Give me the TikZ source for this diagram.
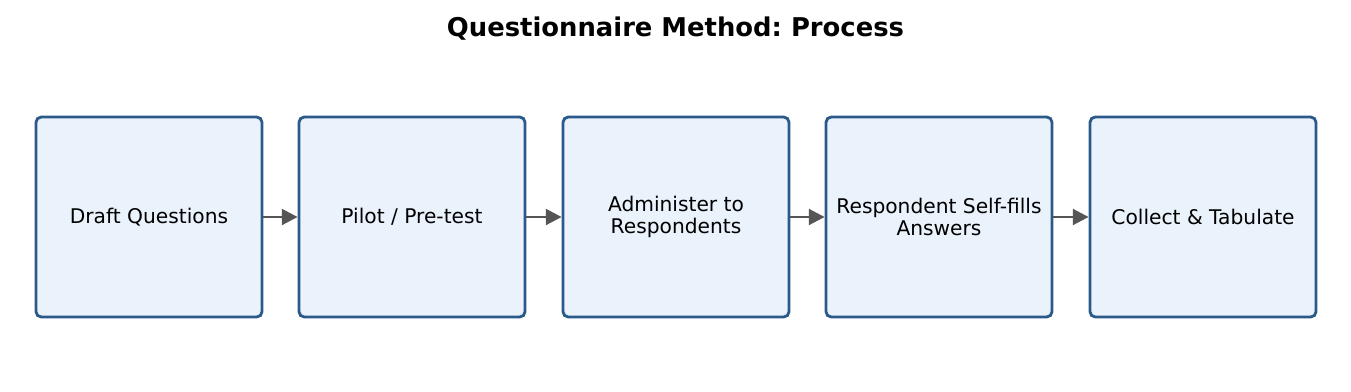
\documentclass[tikz,border=0pt]{standalone}
\usepackage{fontspec}
\setmainfont{DejaVu Sans}
\usetikzlibrary{positioning,arrows.meta}
\definecolor{boxfill}{HTML}{EAF2FB}
\definecolor{boxline}{HTML}{2B5A8A}
\definecolor{arrowgray}{HTML}{555555}
\frenchspacing

\begin{document}
\begin{tikzpicture}[
  % Node Styles
  procbox/.style={rectangle, rounded corners=3pt, draw=boxline, line width=1.6pt, fill=boxfill, text=black, minimum height=4cm, minimum width=4.52cm, align=center, inner sep=2pt, font=\fontsize{11.5}{12.5}\selectfont},
  titlebox/.style={font=\bfseries\fontsize{14.7}{17}\selectfont},
  % Arrow Styles
  flowarrow/.style={-{Triangle[length=9pt, width=9pt]}, line width=1.6pt, draw=arrowgray, fill=arrowgray},
]
\useasboundingbox (0,0) rectangle (27.02,-7.82);

% Questionnaire Method: Process

\node[titlebox] (Title) at (13.51,-0.58) {Questionnaire Method: Process};

\node[procbox] (Q_Draft) at (2.98,-4.34) {Draft Questions};
\node[procbox] (Q_Pilot) at (8.24,-4.34) {Pilot / Pre-test};
\node[procbox] (Q_Administer) at (13.52,-4.34) {Administer to\\Respondents};
\node[procbox] (Q_SelfFill) at (18.78,-4.34) {Respondent Self-fills\\Answers};
\node[procbox] (Q_Collect) at (24.06,-4.34) {Collect \& Tabulate};

\draw[flowarrow] (Q_Draft) -- (Q_Pilot);
\draw[flowarrow] (Q_Pilot) -- (Q_Administer);
\draw[flowarrow] (Q_Administer) -- (Q_SelfFill);
\draw[flowarrow] (Q_SelfFill) -- (Q_Collect);

\end{tikzpicture}
\end{document}
